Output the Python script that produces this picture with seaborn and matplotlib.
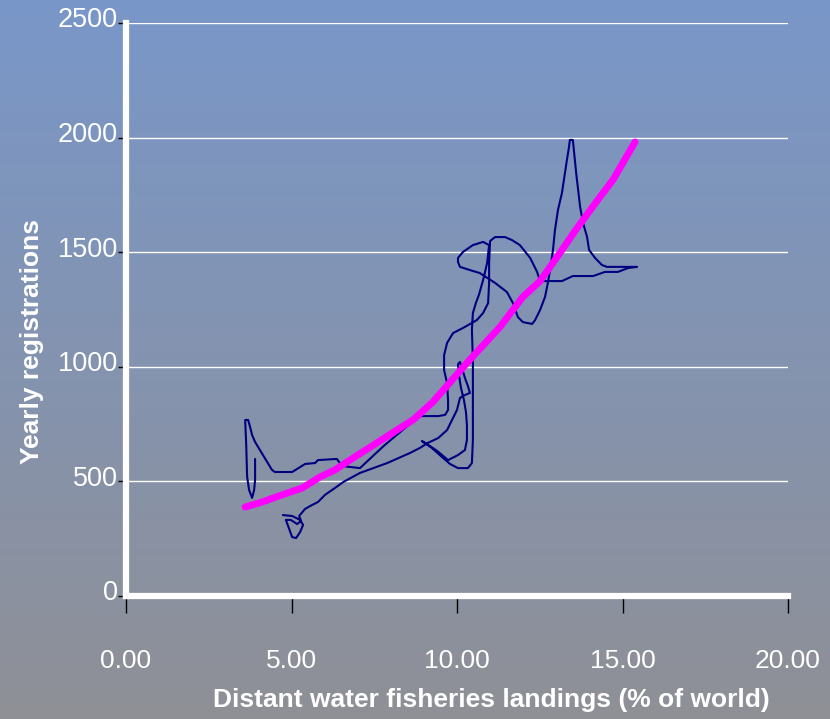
import numpy as np
import pandas as pd
import matplotlib
matplotlib.use("Agg")
import matplotlib.pyplot as plt
import seaborn as sns
from matplotlib.transforms import ScaledTranslation

# ---- data ----
path_x = [4.74, 5.02, 5.26, 5.35, 5.26, 5.14, 5.02, 4.92, 4.83, 4.98, 5.17, 5.29, 5.23,
          5.41, 5.62, 5.80, 6.01, 6.31, 6.56, 7.07, 7.89, 8.58, 8.88,
          9.12, 9.43, 9.70, 9.85, 10.00, 10.09, 10.18, 10.39,
          10.33, 10.24, 10.15, 10.09, 10.03, 10.06, 10.12, 10.21, 10.27, 10.30, 10.30, 10.24,
          10.03, 9.73, 9.40, 9.09, 8.94,
          9.24, 9.55, 9.79, 10.03, 10.33, 10.45, 10.48, 10.48, 10.48, 10.45, 10.48, 10.57,
          10.66, 10.79, 10.91, 10.97,
          10.79, 10.48, 10.18, 10.03, 10.03,
          10.09, 10.39, 10.69, 11.15, 11.51, 11.69, 11.84, 11.99, 12.27, 12.36, 12.51, 12.66, 12.75,
          12.81, 12.90, 12.96, 13.05, 13.17, 13.26, 13.32, 13.38, 13.41, 13.50, 13.53, 13.56,
          13.60, 13.66, 13.72, 13.81, 13.93, 13.99, 14.17, 14.38, 14.53, 15.44,
          15.17, 14.86, 14.47, 14.11, 13.50, 13.17, 12.51,
          12.42, 12.21, 11.90, 11.66, 11.45, 11.15, 11.00,
          10.97, 10.97, 10.94, 10.79, 10.60, 10.24, 9.88, 9.70, 9.61, 9.61, 9.70, 9.73, 9.73,
          9.64, 9.43, 8.88,
          8.43, 7.82, 7.46, 7.07, 6.53, 6.37, 5.80, 5.71, 5.41, 5.02, 4.50,
          4.41, 3.90, 3.81, 3.75, 3.69, 3.60, 3.63, 3.66, 3.72, 3.81, 3.87, 3.90, 3.90]
path_y = [353, 349, 332, 310, 279, 253, 257, 297, 332, 332, 314, 327, 349,
          380, 397, 410, 441, 471, 497, 537, 580, 624, 646,
          668, 689, 724, 768, 812, 864, 873, 886,
          916, 951, 995, 1021, 1012, 964, 908, 855, 803, 746, 681, 637,
          615, 593, 633, 663, 676,
          646, 606, 576, 558, 558, 580, 681, 855, 1030, 1161, 1235, 1278,
          1313, 1379, 1453, 1531,
          1545, 1531, 1501, 1475, 1457,
          1436, 1422, 1409, 1366, 1326, 1278, 1217, 1195, 1187, 1204, 1248, 1305, 1370,
          1422, 1510, 1597, 1684, 1758, 1846, 1902, 1955, 1990, 1990, 1946, 1902,
          1846, 1771, 1697, 1627, 1566, 1510, 1475, 1444, 1436, 1436,
          1431, 1414, 1414, 1396, 1396, 1374, 1374,
          1414, 1475, 1531, 1553, 1566, 1566, 1549,
          1453, 1366, 1278, 1235, 1204, 1174, 1147, 1104, 1051, 986, 929, 855, 812,
          790, 785, 785,
          733, 659, 611, 558, 567, 598, 593, 580, 576, 541, 541,
          550, 672, 702, 737, 768, 768, 668, 519, 462, 428, 462, 506, 598]

trend_x = [3.60, 4.11, 4.71, 5.32, 5.86, 6.31, 6.86, 7.58, 8.28, 8.67, 9.27, 10.30,
           11.30, 11.99, 12.51, 13.11, 13.63, 14.32, 14.71, 15.38]
trend_y = [388, 410, 441, 471, 519, 550, 602, 668, 733, 768, 846, 1017,
           1174, 1305, 1374, 1497, 1606, 1741, 1815, 1981]

x_ticks = [0, 5, 10, 15, 20]
x_tick_labels = ["0.00", "5.00", "10.00", "15.00", "20.00"]
y_ticks = [0, 500, 1000, 1500, 2000, 2500]
y_tick_labels = ["0", "500", "1000", "1500", "2000", "2500"]
x_title = "Distant water fisheries landings (% of world)"
y_title = "Yearly registrations"

# ---- style ----
sns.set_style("white")
plt.rcParams['font.family'] = ['Liberation Sans', 'DejaVu Sans']

W, H = 830, 719
fig = plt.figure(figsize=(W / 100, H / 100), dpi=100)

# gradient background
bg = fig.add_axes([0, 0, 1, 1], zorder=-10)
top_c = np.array([121, 151, 201]) / 255
bot_c = np.array([143, 144, 150]) / 255
t = np.linspace(0, 1, 256)[:, None]
grad = top_c * (1 - t) + bot_c * t
bg.imshow(grad[:, None, :], aspect='auto', extent=[0, 1, 0, 1])
bg.axis('off')

ax = fig.add_axes([126 / W, 1 - 596 / H, (788 - 126) / W, (596 - 23) / H])
ax.patch.set_alpha(0)

path_df = pd.DataFrame({"x": path_x, "y": path_y})
trend_df = pd.DataFrame({"x": trend_x, "y": trend_y})
sns.lineplot(data=path_df, x="x", y="y", sort=False, estimator=None,
             color="#000080", lw=1.5, ax=ax)
sns.lineplot(data=trend_df, x="x", y="y", sort=False, estimator=None,
             color="#FF00FF", lw=5, ax=ax)

ax.set_xlim(0, 20)
ax.set_ylim(0, 2500)
ax.set_xticks(x_ticks)
ax.set_xticklabels(x_tick_labels)
ax.set_yticks(y_ticks)
ax.set_yticklabels(y_tick_labels)

ax.set_axisbelow(True)
ax.yaxis.grid(True, color="white", lw=1)
ax.xaxis.grid(False)

for s in ["top", "right"]:
    ax.spines[s].set_visible(False)
for s in ["left", "bottom"]:
    ax.spines[s].set_color("white")
    ax.spines[s].set_linewidth(4.5)

ax.tick_params(axis="x", direction="out", length=12, width=1, color="black",
               pad=26, labelsize=19, labelcolor="white", bottom=True)
ax.tick_params(axis="y", direction="out", length=6, width=1, color="black",
               pad=0, labelsize=19.5, labelcolor="white", left=True)

for lab in ax.get_yticklabels():
    lab.set_transform(lab.get_transform() + ScaledTranslation(0, 4 / 72, fig.dpi_scale_trans))

ax.set_xlabel(x_title, fontsize=19, fontweight="bold", color="white")
ax.set_ylabel(y_title, fontsize=19, fontweight="bold", color="white")
ax.xaxis.label.set_va("center")
ax.yaxis.label.set_va("center")
ax.xaxis.set_label_coords((491 - 126) / 662, (596 - 700) / 573)
ax.yaxis.set_label_coords((32 - 126) / 662, (596 - 341.5) / 573)

fig.savefig("out.png", dpi=100)
